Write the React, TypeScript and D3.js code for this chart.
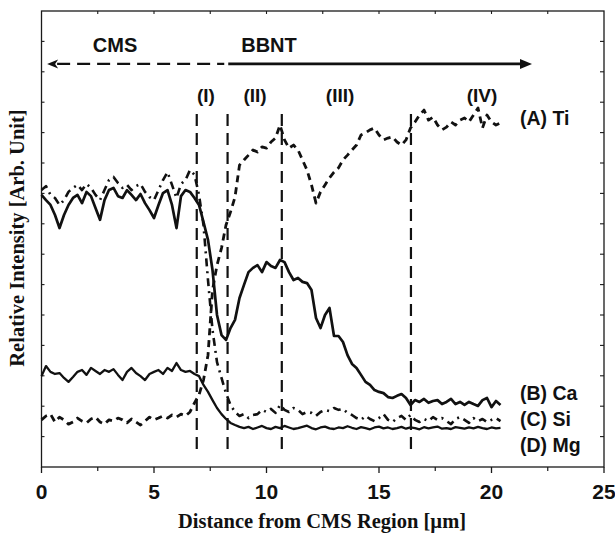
import React from "react";
import { scaleLinear, line } from "d3";

// sampling positions along the line scan [µm]
const distance = [
  0, 0.2, 0.4, 0.6, 0.8, 1, 1.2, 1.4, 1.6, 1.8,
  2, 2.2, 2.4, 2.6, 2.8, 3, 3.2, 3.4, 3.6, 3.8,
  4, 4.2, 4.4, 4.6, 4.8, 5, 5.2, 5.4, 5.6, 5.8,
  6, 6.2, 6.4, 6.6, 6.8, 7, 7.2, 7.4, 7.6, 7.8,
  8, 8.2, 8.4, 8.6, 8.8, 9, 9.2, 9.4, 9.6, 9.8,
  10, 10.2, 10.4, 10.6, 10.8, 11, 11.2, 11.4, 11.6, 11.8,
  12, 12.2, 12.4, 12.6, 12.8, 13, 13.2, 13.4, 13.6, 13.8,
  14, 14.2, 14.4, 14.6, 14.8, 15, 15.2, 15.4, 15.6, 15.8,
  16, 16.2, 16.4, 16.6, 16.8, 17, 17.2, 17.4, 17.6, 17.8,
  18, 18.2, 18.4, 18.6, 18.8, 19, 19.2, 19.4, 19.6, 19.8,
  20, 20.2, 20.4,
];

const ti = [
  1.55, 1.68, 1.74, 1.48, 1.64, 1.55, 1.41, 1.48, 1.61, 1.51,
  1.45, 1.58, 1.64, 1.48, 1.41, 1.55, 1.51, 1.61, 1.55, 1.45,
  1.58, 1.48, 1.38, 1.51, 1.64, 1.55, 1.61, 1.68, 1.61, 1.71,
  1.64, 1.74, 1.68, 1.81, 2.11, 2.37, 2.86, 3.68, 5.82, 6.64,
  7.2, 7.96, 8.39, 8.88, 9.93, 10.1, 10.26, 10.43, 10.36, 10.53,
  10.49, 10.69, 10.82, 11.25, 10.76, 10.49, 10.59, 10.43, 10.1, 9.77,
  9.28, 8.68, 9.05, 9.28, 9.51, 9.7, 9.84, 10.1, 10.26, 10.43,
  10.59, 10.92, 10.99, 11.09, 11.15, 10.92, 10.76, 10.82, 10.86, 10.69,
  10.59, 10.76, 11.15, 11.35, 11.58, 11.74, 11.41, 11.51, 11.25, 11.09,
  11.18, 11.35, 11.25, 11.41, 11.48, 11.35, 11.58, 11.81, 11.15, 11.58,
  11.35, 11.25, 11.32,
];

const ca = [
  8.95, 8.78, 8.62, 8.29, 7.86, 8.29, 8.62, 8.85, 8.95, 8.68,
  9.05, 8.91, 8.52, 8.13, 8.78, 9.11, 9.18, 8.91, 8.85, 9.11,
  8.95, 8.78, 8.98, 8.68, 8.45, 8.19, 8.62, 9.01, 9.11, 8.62,
  7.86, 8.91, 9.11, 9.05, 8.85, 8.62, 8.06, 7.47, 6.48, 5.0,
  4.34, 4.18, 4.57, 4.84, 5.56, 5.99, 6.41, 6.55, 6.64, 6.41,
  6.74, 6.61, 6.55, 6.81, 6.74, 6.41, 6.15, 6.22, 6.09, 6.05,
  5.82, 4.9, 4.57, 5.0, 5.23, 4.31, 4.31, 4.11, 3.68, 3.39,
  3.26, 3.03, 2.8, 2.7, 2.53, 2.47, 2.43, 2.3, 2.27, 2.34,
  2.4, 2.27, 2.04, 2.2, 2.14, 2.24, 2.11, 2.17, 2.2, 2.07,
  2.14, 2.24, 2.07, 2.14, 2.04, 2.14, 2.07, 2.01, 2.2, 2.27,
  1.97, 2.17, 2.04,
];

const si = [
  9.11, 9.24, 8.95, 8.85, 8.62, 8.78, 9.05, 9.18, 9.28, 9.11,
  9.31, 9.18, 8.95, 8.78, 9.11, 9.44, 9.54, 9.34, 9.18, 9.28,
  9.11, 9.24, 9.31, 9.05, 8.88, 8.78, 9.11, 9.44, 9.7, 9.28,
  8.85, 9.31, 9.44, 9.77, 9.61, 8.95, 7.96, 6.15, 4.51, 3.45,
  2.93, 2.43, 2.04, 1.81, 1.68, 1.74, 1.61, 1.71, 1.74, 1.88,
  1.81, 1.91, 1.78, 2.04, 1.88, 1.81, 1.94, 1.88, 1.74, 1.81,
  1.78, 1.68, 1.81, 1.88, 1.84, 1.94, 1.88, 1.91, 1.78, 1.71,
  1.61, 1.55, 1.68, 1.58, 1.51, 1.61, 1.74, 1.55, 1.48, 1.61,
  1.68, 1.55, 1.71, 1.55, 1.48, 1.58, 1.51, 1.64, 1.55, 1.61,
  1.51, 1.41, 1.58, 1.64, 1.55, 1.45, 1.61, 1.51, 1.58, 1.48,
  1.55, 1.61, 1.51,
];

const mg = [
  2.99, 3.32, 3.13, 3.06, 3.09, 2.93, 2.8, 2.96, 3.13, 3.19,
  3.03, 3.26, 3.16, 3.06, 3.19, 3.13, 3.22, 3.03, 2.86, 3.13,
  3.26, 3.09, 2.99, 2.86, 3.06, 3.13, 3.19, 3.06, 3.26, 3.16,
  3.42, 3.19, 3.13, 3.16, 3.06, 2.99, 2.7, 2.47, 2.2, 1.94,
  1.74, 1.58, 1.45, 1.38, 1.32, 1.28, 1.32, 1.25, 1.3, 1.35,
  1.28, 1.25, 1.32, 1.28, 1.35, 1.3, 1.25, 1.28, 1.32, 1.36,
  1.28, 1.24, 1.3, 1.33, 1.27, 1.25, 1.3, 1.28, 1.34, 1.29,
  1.25, 1.31, 1.28, 1.24, 1.3, 1.33, 1.27, 1.3, 1.25, 1.28,
  1.32, 1.26, 1.3, 1.28, 1.24, 1.31, 1.27, 1.3, 1.33, 1.26,
  1.28, 1.25, 1.31, 1.29, 1.26, 1.3, 1.27, 1.32, 1.28, 1.25,
  1.3, 1.27, 1.29,
];

const seriesNames = ["(A) Ti", "(B) Ca", "(C) Si", "(D) Mg"];
const labelLevels = [11.25, 2.2, 1.35, 0.49];

// interface boundaries (I)-(IV) and their labels
const boundaries = [6.9, 8.27, 10.68, 16.42];
const regionNames = ["(I)", "(II)", "(III)", "(IV)"];
const regionLabelX = [7.31, 9.49, 13.27, 19.58];

const xTicks = [0, 5, 10, 15, 20, 25];
const xMinorTicks = [2.5, 7.5, 12.5, 17.5, 22.5];
const yTicks = [1, 2, 3, 4, 5, 6, 7, 8, 9, 10, 11, 12, 13, 14];

const W = 615;
const H = 533;
const M = { left: 41.5, top: 11, right: 604, bottom: 467 };

const sans = "'Liberation Sans', Arial, sans-serif";
const serif = "'Liberation Serif', 'Times New Roman', serif";

export default function App() {
  const x = scaleLinear().domain([0, 25]).range([M.left, M.right]);
  const y = scaleLinear().domain([0, 15]).range([M.bottom, M.top]);

  const all = [ti, ca, si, mg];
  const styles = [
    { dash: "7,5", w: 2.8 },
    { dash: null, w: 2.7 },
    { dash: "8,5,2,5", w: 2.6 },
    { dash: null, w: 2.3 },
  ];

  const pathFor = (vals) =>
    line()
      .x((d) => x(d[0]))
      .y((d) => y(d[1]))(distance.map((dd, i) => [dd, vals[i]]).filter((p) => p[1] != null));

  const arrowY = y(13.26);
  const arrowStart = x(0.25);
  const arrowSplit = x(8.3);
  const arrowEnd = x(21.8);

  return (
    <svg width={W} height={H} style={{ position: "absolute", left: 0, top: 0, background: "#fff" }}>
      {/* frame */}
      <rect x={M.left} y={M.top} width={M.right - M.left} height={M.bottom - M.top}
        fill="none" stroke="#1a1a1a" strokeWidth={1.3} />

      {/* bottom ticks (outward) and labels */}
      {xTicks.map((t) => (
        <g key={"xt" + t}>
          <line x1={x(t)} x2={x(t)} y1={M.bottom} y2={M.bottom + 6} stroke="#1a1a1a" strokeWidth={1.3} />
          <text x={x(t)} y={499} textAnchor="middle" fontFamily={sans} fontWeight="bold" fontSize={21} fill="#111">{t}</text>
        </g>
      ))}
      {xMinorTicks.map((t) => (
        <line key={"xm" + t} x1={x(t)} x2={x(t)} y1={M.bottom} y2={M.bottom + 4} stroke="#1a1a1a" strokeWidth={1.2} />
      ))}
      {/* top ticks (inward) */}
      {[...xMinorTicks, ...xTicks.slice(1, -1)].map((t) => (
        <line key={"xtop" + t} x1={x(t)} x2={x(t)} y1={M.top} y2={M.top + 3} stroke="#1a1a1a" strokeWidth={1.1} />
      ))}
      {/* left / right ticks */}
      {yTicks.map((t) => (
        <g key={"yt" + t}>
          <line x1={M.left} x2={M.left + 3} y1={y(t)} y2={y(t)} stroke="#1a1a1a" strokeWidth={1.1} />
          <line x1={M.right - 4} x2={M.right} y1={y(t)} y2={y(t)} stroke="#1a1a1a" strokeWidth={1.1} />
        </g>
      ))}

      {/* axis titles */}
      <text x={322} y={528} textAnchor="middle" fontFamily={serif} fontWeight="bold" fontSize={20.5} fill="#111">
        Distance from CMS Region [µm]
      </text>
      <text transform={`translate(24,${238}) rotate(-90)`} textAnchor="middle" fontFamily={serif} fontWeight="bold" fontSize={20.5} fill="#111">
        Relative Intensity [Arb. Unit]
      </text>

      {/* region arrow */}
      <line x1={arrowStart + 10} x2={arrowSplit - 4} y1={arrowY} y2={arrowY} stroke="#111" strokeWidth={2.4} strokeDasharray="13,7" />
      <line x1={arrowSplit} x2={arrowEnd - 10} y1={arrowY} y2={arrowY} stroke="#111" strokeWidth={2.6} />
      <path d={`M${arrowStart},${arrowY} l11,-4.5 l-3,4.5 l3,4.5 z`} fill="#111" />
      <path d={`M${arrowEnd},${arrowY} l-12,-5 l0,10 z`} fill="#111" />
      <text x={x(3.27)} y={y(13.65)} textAnchor="middle" fontFamily={sans} fontWeight="bold" fontSize={20} fill="#111">CMS</text>
      <text x={x(10.11)} y={y(13.65)} textAnchor="middle" fontFamily={sans} fontWeight="bold" fontSize={20} fill="#111">BBNT</text>

      {/* boundaries */}
      {boundaries.map((b, i) => (
        <line key={"b" + i} x1={x(b)} x2={x(b)} y1={y(11.61)} y2={y(0.46)} stroke="#111" strokeWidth={2.2} strokeDasharray="12,7" />
      ))}
      {regionNames.map((r, i) => (
        <text key={r} x={x(regionLabelX[i])} y={y(12)} textAnchor="middle" fontFamily={sans} fontWeight="bold" fontSize={19} fill="#111">{r}</text>
      ))}

      {/* profiles */}
      {all.map((vals, i) => (
        <path key={"s" + i} d={pathFor(vals)} fill="none" stroke="#111" strokeWidth={styles[i].w}
          strokeDasharray={styles[i].dash || undefined} strokeLinejoin="round" />
      ))}
      {seriesNames.map((n, i) => (
        <text key={n} x={x(distance[distance.length - 1]) + 19.5} y={y(labelLevels[i])} fontFamily={sans} fontWeight="bold" fontSize={19.5} fill="#111">{n}</text>
      ))}
    </svg>
  );
}
